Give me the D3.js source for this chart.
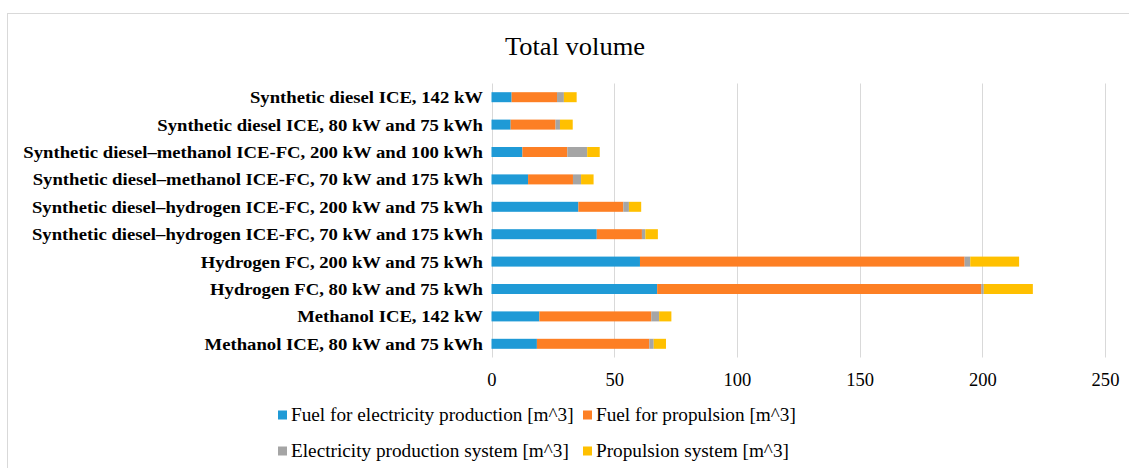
<!DOCTYPE html>
<html>
<head>
<meta charset="utf-8">
<script src="https://cdn.jsdelivr.net/npm/d3@7"></script>
<style>
  html, body { margin: 0; padding: 0; background: #fff; }
  svg { display: block; }
  svg text { font-family: "Liberation Serif", "Times New Roman", serif; }
</style>
</head>
<body>
<svg id="chart" width="1129" height="468"></svg>
<script>
// Configurations, listed top to bottom
const categories = [
  "Synthetic diesel ICE, 142 kW",
  "Synthetic diesel ICE, 80 kW and 75 kWh",
  "Synthetic diesel–methanol ICE-FC, 200 kW and 100 kWh",
  "Synthetic diesel–methanol ICE-FC, 70 kW and 175 kWh",
  "Synthetic diesel–hydrogen ICE-FC, 200 kW and 75 kWh",
  "Synthetic diesel–hydrogen ICE-FC, 70 kW and 175 kWh",
  "Hydrogen FC, 200 kW and 75 kWh",
  "Hydrogen FC, 80 kW and 75 kWh",
  "Methanol ICE, 142 kW",
  "Methanol ICE, 80 kW and 75 kWh"
];

// Volume components [m^3]
const fuelElectricity   = [8.2, 7.8, 12.6, 14.9, 35.4, 42.9, 60.5, 67.5, 19.5, 18.5];
const fuelPropulsion    = [18.5, 18.3, 18.3, 18.3, 18.3, 18.4, 132.3, 132.1, 45.6, 45.8];
const electricitySystem = [2.8, 1.8, 8.1, 3.3, 2.3, 1.4, 2.3, 1.0, 3.2, 1.8];
const propulsionSystem  = [5.2, 5.2, 5.1, 5.1, 5.0, 5.1, 19.9, 20.0, 5.0, 5.0];

const seriesNames = [
  "Fuel for electricity production [m^3]",
  "Fuel for propulsion [m^3]",
  "Electricity production system [m^3]",
  "Propulsion system [m^3]"
];
const seriesColors = ["#1f9ad6", "#fd7f24", "#a5a5a5", "#ffc000"];
const xTicks = [0, 50, 100, 150, 200, 250];

const keys = ["fe", "fp", "es", "ps"];
const table = categories.map((c, i) => ({
  category: c,
  fe: fuelElectricity[i],
  fp: fuelPropulsion[i],
  es: electricitySystem[i],
  ps: propulsionSystem[i]
}));

// text is set slightly wide, as in the exported figure
const SX = 1.1;
const serif = "'Liberation Serif', 'Times New Roman', serif";

const svg = d3.select("#chart");

// outer frame
svg.append("rect")
  .attr("x", 7.5).attr("y", 13.5)
  .attr("width", 1140).attr("height", 470)
  .attr("fill", "none").attr("stroke", "#d9d9d9").attr("stroke-width", 1);

// title
svg.append("text")
  .attr("transform", `translate(575, 55) scale(1.06,1)`)
  .attr("text-anchor", "middle")
  .attr("font-family", serif)
  .attr("font-size", 25)
  .attr("fill", "#000")
  .text("Total volume");

const plot = { left: 491.5, right: 1105, top: 83.5, bottom: 357.5 };

const x = d3.scaleLinear().domain([0, 250]).range([plot.left, plot.right]);
const y = d3.scaleBand().domain(categories).range([plot.top, plot.bottom]).paddingInner(0.635).paddingOuter(0.3175);

// gridlines
svg.append("g")
  .selectAll("line")
  .data(xTicks)
  .join("line")
  .attr("x1", d => Math.round(x(d)) + 0.5)
  .attr("x2", d => Math.round(x(d)) + 0.5)
  .attr("y1", plot.top).attr("y2", plot.bottom)
  .attr("stroke", "#d9d9d9").attr("stroke-width", 1);

// stacked bars
const stacked = d3.stack().keys(keys)(table);
svg.append("g")
  .selectAll("g")
  .data(stacked)
  .join("g")
  .attr("fill", (d, i) => seriesColors[i])
  .selectAll("rect")
  .data(d => d)
  .join("rect")
  .attr("x", d => x(d[0]))
  .attr("width", d => x(d[1]) - x(d[0]))
  .attr("y", d => y(d.data.category))
  .attr("height", y.bandwidth());

// category labels
svg.append("g")
  .selectAll("text")
  .data(categories)
  .join("text")
  .attr("transform", d => `translate(483, ${y(d) + y.bandwidth() / 2}) scale(${SX},1)`)
  .attr("dy", "0.35em")
  .attr("text-anchor", "end")
  .attr("font-family", serif)
  .attr("font-size", 17)
  .attr("font-weight", "bold")
  .attr("fill", "#000")
  .text(d => d);

// x axis tick labels
const xAxis = d3.axisBottom(x).tickValues(xTicks).tickSize(0).tickPadding(0);
const gx = svg.append("g")
  .attr("transform", `translate(0, 373)`)
  .call(xAxis)
  .attr("font-family", serif);
gx.select(".domain").remove();
gx.selectAll("text")
  .attr("font-family", serif)
  .attr("font-size", 18)
  .attr("fill", "#000")
  .attr("dy", "0.71em")
  .attr("transform", `scale(1.03,1)`)
  .attr("x", 0);

// legend (two columns, two rows)
const legendCols = [278, 583];
const legendRows = [415, 451];
const legend = svg.append("g")
  .selectAll("g")
  .data(seriesNames)
  .join("g")
  .attr("transform", (d, i) => `translate(${legendCols[i % 2]}, ${legendRows[Math.floor(i / 2)]})`);
legend.append("rect")
  .attr("x", 0).attr("y", -4.5)
  .attr("width", 9).attr("height", 9)
  .attr("fill", (d, i) => seriesColors[i]);
legend.append("text")
  .attr("transform", `translate(13, 0) scale(1.07,1)`)
  .attr("dy", "0.35em")
  .attr("font-family", serif)
  .attr("font-size", 18)
  .attr("fill", "#000")
  .text(d => d);
</script>
</body>
</html>
